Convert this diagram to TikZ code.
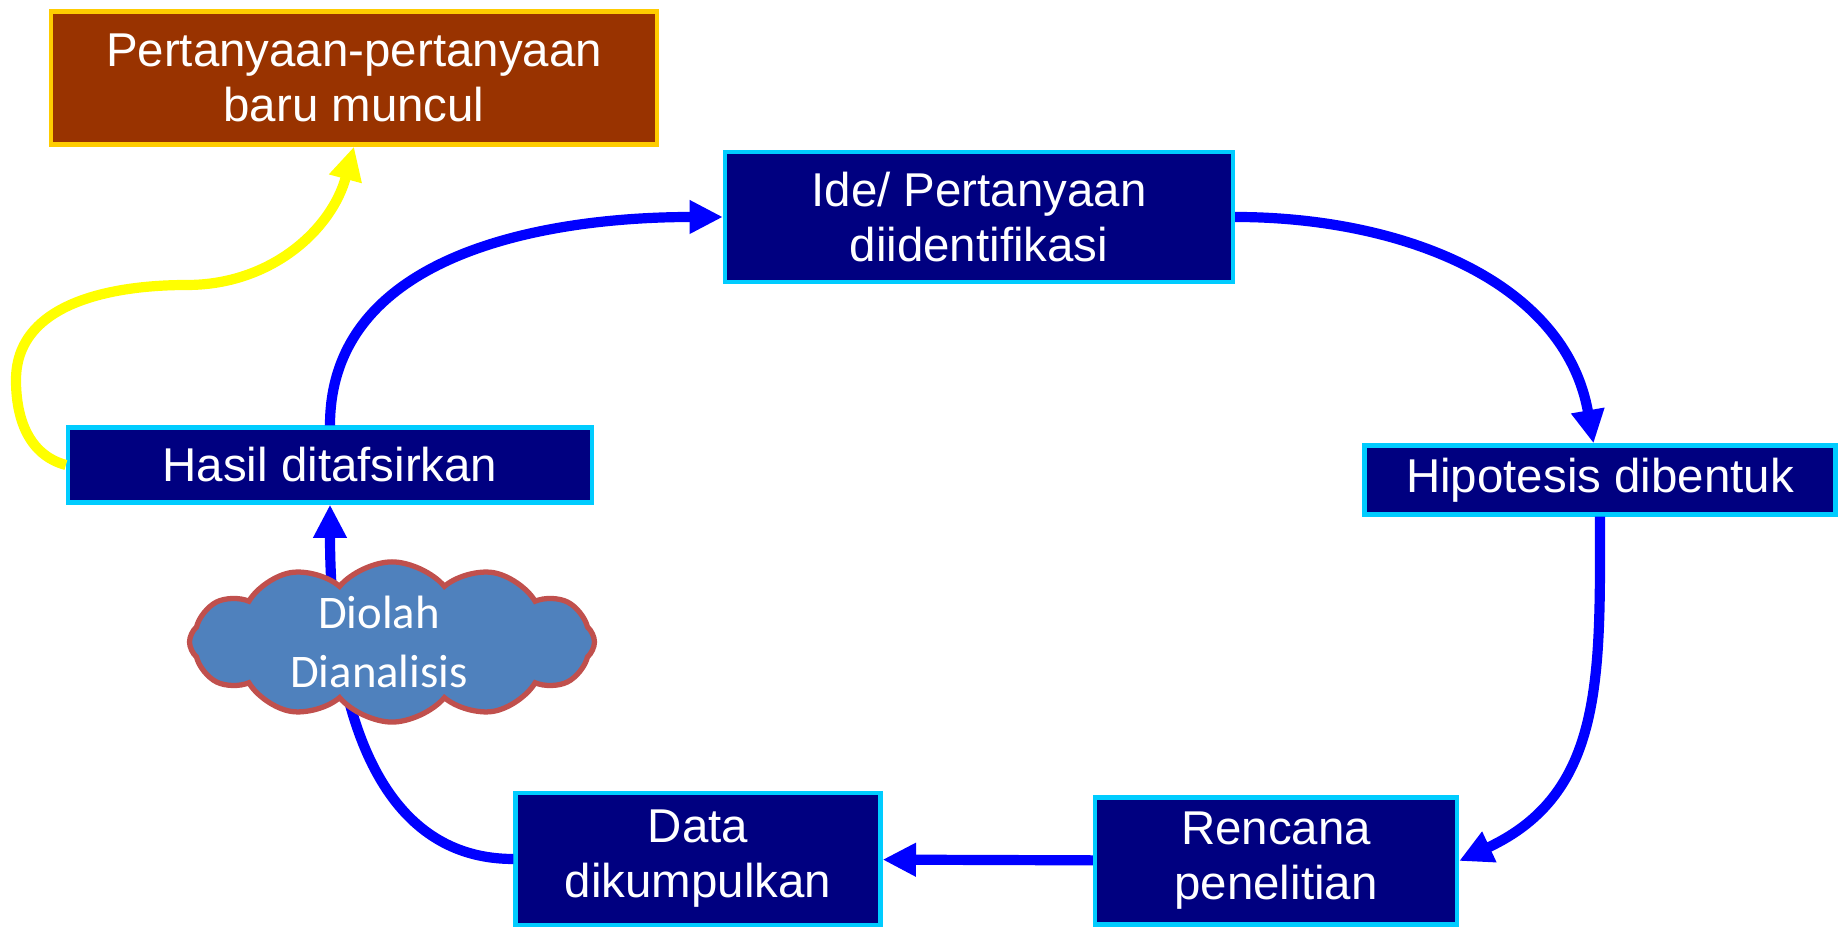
\documentclass[tikz,border=0pt]{standalone}
\usepackage{fontspec}
\setmainfont{Liberation Sans}
\newfontfamily\awanfont{Carlito}
\usetikzlibrary{arrows.meta, shapes.symbols}
\definecolor{navy}{HTML}{000080}
\definecolor{birumuda}{HTML}{00CCFF}
\definecolor{coklat}{HTML}{993300}
\definecolor{emas}{HTML}{FFCC00}
\definecolor{biru}{HTML}{0000FF}
\definecolor{kuning}{HTML}{FFFF00}
\definecolor{awanisi}{HTML}{4F81BD}
\definecolor{awantepi}{HTML}{C0504D}
\tikzset{
  siklus/.style={
	>={Triangle[length=9.5pt,width=9pt]}, % big triangle heads
	every node/.style={text=white, align=center, inner sep=0pt,
	  font=\fontsize{13.5}{15.6}\selectfont}, % white text in every box
  },
  langkah/.style={draw=birumuda, fill=navy, line width=1.2pt}, % dark steps of the cycle
  baru/.style={draw=emas, fill=coklat, line width=1.2pt}, % new questions box
  awan/.style={cloud, cloud puffs=12, cloud puff arc=100, cloud ignores aspect,
	fill=awanisi, draw=awantepi, line width=1.5pt,
	minimum width=4.05cm, minimum height=1.02cm,
	font=\awanfont\fontsize{13.3}{16.8}\selectfont},
  panah/.style={->, draw=biru, line width=2.9pt}, % blue cycle arrows
  panahkuning/.style={->, draw=kuning, line width=2.9pt},
}

\begin{document}
\begin{tikzpicture}[siklus]
\useasboundingbox (0,0) rectangle (18.41,9.30);
\node[baru, minimum width=6.06cm, minimum height=1.33cm] at (3.54,8.52) (tanya) {Pertanyaan-pertanyaan\\baru muncul};
\node[langkah, minimum width=5.08cm, minimum height=1.30cm] at (9.79,7.13) (ide) {Ide/ Pertanyaan\\diidentifikasi};
\node[langkah, minimum width=4.71cm, minimum height=0.69cm] at (16.00,4.50) (hip) {Hipotesis dibentuk};
\node[langkah, minimum width=5.24cm, minimum height=0.75cm] at (3.30,4.65) (hasil) {Hasil ditafsirkan};
\node[langkah, minimum width=3.62cm, minimum height=1.27cm] at (12.76,0.69) (ren) {Rencana\\penelitian};
\node[langkah, minimum width=3.65cm, minimum height=1.32cm] at (6.98,0.71) (data) {Data\\dikumpulkan};
\draw   (hasil) edge[panah, out=90, in=180] (ide)
	(ide) edge[panah, out=0, in=100] (hip)
	(hip.south) edge[panah, out=-90, in=25, looseness=1.1] (ren.east)
	(ren) edge[panah] (data)
	(data) edge[panah, out=180, in=-90] (hasil)
;
\node[awan] at (3.92,2.88) (olah) {Diolah\hspace*{0.26cm}\\Dianalisis\hspace*{0.26cm}};
\coordinate (k1) at (0.16,5.50);
\coordinate (k2) at (1.87,6.45);
\draw[panahkuning] (hasil.west) to[out=165, in=-90] (k1) to[out=90, in=180] (k2)
	to[out=0, in=255] (tanya.south);
\end{tikzpicture}
\end{document}
